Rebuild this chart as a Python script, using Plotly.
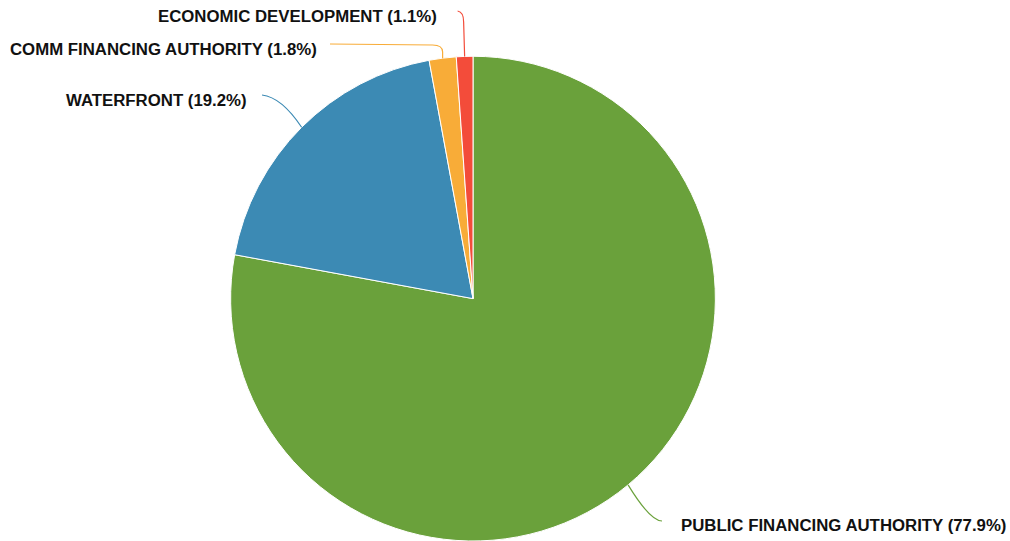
import math
import plotly.graph_objects as go

# ---- data ----
categories = ["PUBLIC FINANCING AUTHORITY", "WATERFRONT", "COMM FINANCING AUTHORITY", "ECONOMIC DEVELOPMENT"]
values = [77.9, 19.2, 1.8, 1.1]
colors = ["#6aa13b", "#3c8ab4", "#f8ac38", "#f34c3a"]

W, H = 1010, 541
# pie geometry (pixels)
dom_y = [0.0, 0.896]
cx_px = 473
cy_px = H - (dom_y[1] - dom_y[0]) * H / 2
r_px = (dom_y[1] - dom_y[0]) * H / 2
dom_x = [(cx_px - r_px - 2) / W, (cx_px + r_px + 2) / W]

fig = go.Figure(go.Pie(
    labels=categories,
    values=values,
    sort=False,
    direction="clockwise",
    rotation=0,
    marker=dict(colors=colors, line=dict(color="white", width=1)),
    textinfo="none",
    hoverinfo="label+percent",
    showlegend=False,
    domain=dict(x=dom_x, y=dom_y),
))

total = sum(values)
def px(x, y):
    return x / W, 1 - y / H

shapes = []
annotations = []
cum = 0.0
for name, v, col in zip(categories, values, colors):
    mid = (cum + v / 2) / total * 2 * math.pi
    cum += v
    ax = cx_px + r_px * math.sin(mid)
    ay = cy_px - r_px * math.cos(mid)
    pct = v / total * 100
    text = f"{name} ({pct:.1f}%)"
    if name == "ECONOMIC DEVELOPMENT":
        pts = f"M {ax},{ay} L {ax-1},22 Q {ax-1},12 {ax-7},11"
        tx, ty, xa = 439, 16, "right"
    elif name == "COMM FINANCING AUTHORITY":
        pts = f"M {ax},{ay} L {ax},52 Q {ax},45 {ax-10},45 L 330,44"
        tx, ty, xa = 319, 49, "right"
    elif name == "WATERFRONT":
        pts = f"M {ax},{ay} Q {ax-20},{ay-30} 262,95"
        tx, ty, xa = 249, 100, "right"
    else:
        pts = f"M {ax},{ay} Q {ax+22},{ay+36} 662,521"
        tx, ty, xa = 679, 525, "left"
    toks = pts.split()
    out = []
    for t in toks:
        if "," in t:
            x, y = map(float, t.split(","))
            X, Y = px(x, y)
            out.append(f"{X:.5f},{Y:.5f}")
        else:
            out.append(t)
    shapes.append(dict(type="path", xref="paper", yref="paper", path=" ".join(out),
                       line=dict(color=col, width=1.2)))
    X, Y = px(tx, ty)
    annotations.append(dict(text=f"<b>{text}</b>", x=X, y=Y, xref="paper", yref="paper",
                            xanchor=xa, yanchor="middle", showarrow=False,
                            font=dict(family="Liberation Sans, Arial, sans-serif", size=16.8, color="#111111")))

fig.update_layout(
    width=W, height=H,
    margin=dict(l=0, r=0, t=0, b=0),
    paper_bgcolor="white",
    plot_bgcolor="white",
    shapes=shapes,
    annotations=annotations,
)

fig.write_html("out.html", config={"displayModeBar": False},
               post_script="document.body.style.margin='0';document.body.style.overflow='hidden';")
